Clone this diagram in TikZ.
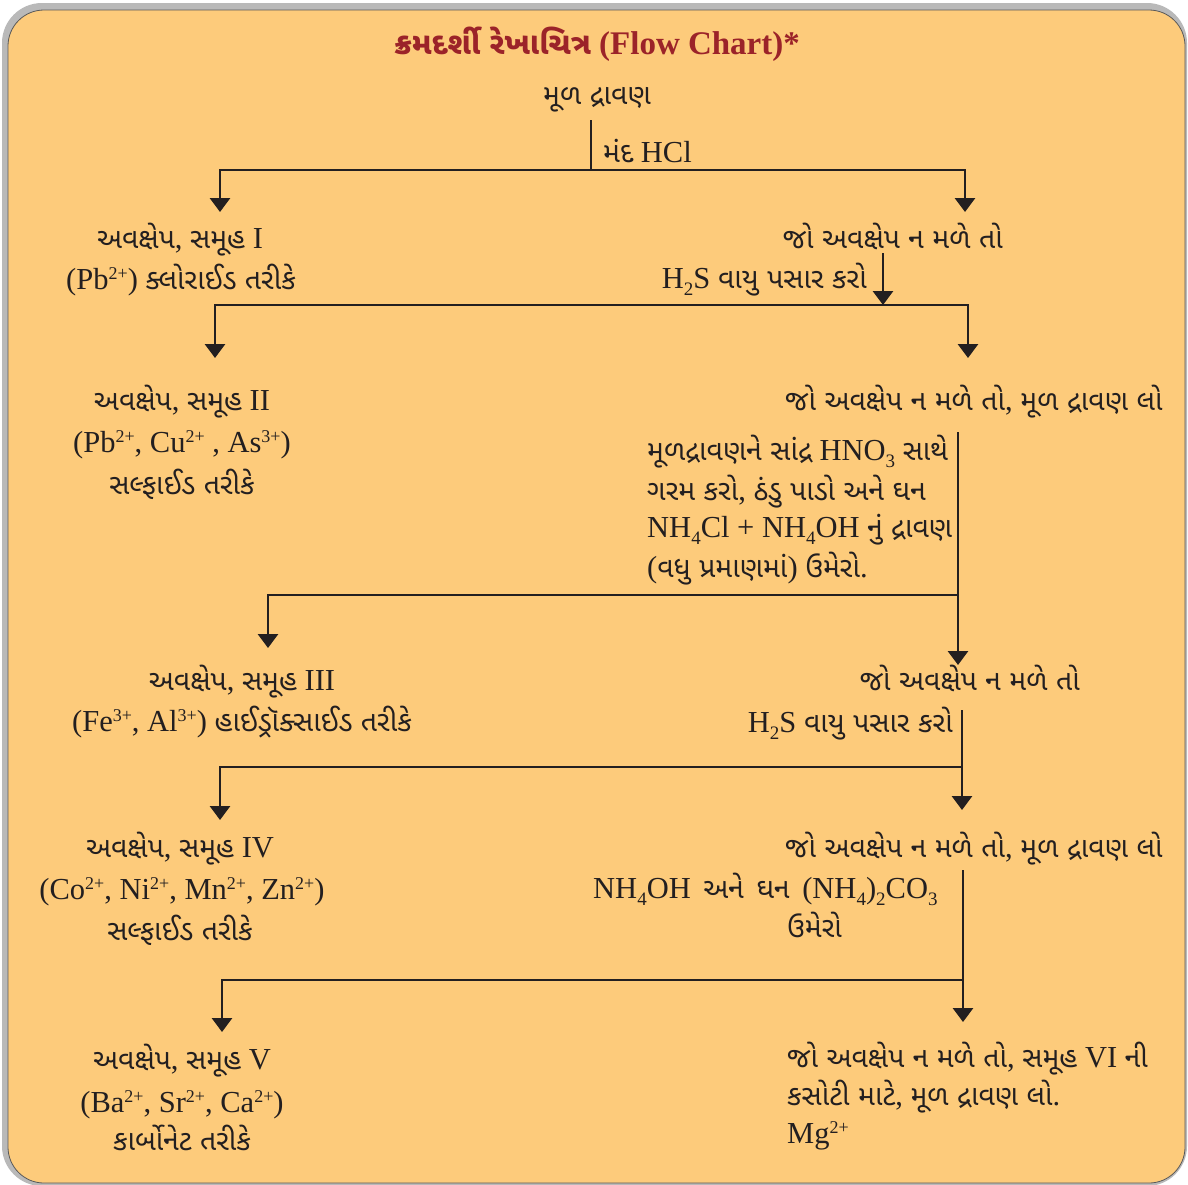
\documentclass[tikz,border=0pt]{standalone}
\usepackage{fontspec}
\setmainfont{Liberation Serif}
\newfontfamily\gujfont[Script=Gujarati,Scale=0.93]{Noto Sans Gujarati UI}
\newcommand\G[1]{{\gujfont #1}}
\newcommand\spp[1]{\raisebox{9.5pt}{\fontsize{18}{18}\selectfont #1}}
\newcommand\sbb[1]{\raisebox{-7pt}{\fontsize{19}{19}\selectfont #1}}
\usetikzlibrary{arrows.meta}
\definecolor{bg}{HTML}{FDCB7B}
\definecolor{ink}{HTML}{231F20}
\definecolor{titlered}{HTML}{9B2329}
\begin{document}
\begin{tikzpicture}[x=1pt,y=-1pt,
  txt/.style={inner sep=0pt, font=\fontsize{30.5}{40}\selectfont, text=ink},
  ttl/.style={inner sep=0pt, font=\fontsize{33}{40}\selectfont\bfseries, text=titlered},
  ln/.style={draw=ink, line width=2.9pt},
  arr/.style={draw=ink, line width=2.9pt, -{Triangle[width=20pt,length=14pt]}}]
\useasboundingbox (0,0) rectangle (1188,1184);
\fill[white] (0,0) rectangle (1188,1184);
\fill[gray!55, rounded corners=40pt] (2,3) rectangle (1187,1186);
\fill[bg, draw=gray!70!black, line width=0.8pt, rounded corners=36pt] (8,10) rectangle (1185,1183);

% title and source
\node[ttl, anchor=base] (title) at (597,54) {\G{ક્રમદર્શી રેખાચિત્ર} (Flow Chart)*};
\node[txt, anchor=base] (src) at (597,104) {\G{મૂળ દ્રાવણ}};
\node[txt, anchor=base west] (hcl) at (603,162) {\G{મંદ} HCl};

% row 1
\node[txt, anchor=base] (p1a) at (180,248) {\G{અવક્ષેપ}, \G{સમૂહ} I};
\node[txt, anchor=base] (p1b) at (181,289) {(Pb\spp{2+}) \G{ક્લોરાઈડ તરીકે}};
\node[txt, anchor=base east] (n1a) at (1003,248) {\G{જો અવક્ષેપ ન મળે તો}};
\node[txt, anchor=base east] (n1b) at (867,288) {H\sbb{2}S \G{વાયુ પસાર કરો}};

% row 2
\node[txt, anchor=base] (p2a) at (182,410) {\G{અવક્ષેપ}, \G{સમૂહ} II};
\node[txt, anchor=base] (p2b) at (182,452) {(Pb\spp{2+}, Cu\spp{2+} , As\spp{3+})};
\node[txt, anchor=base] (p2c) at (182,494) {\G{સલ્ફાઈડ તરીકે}};
\node[txt, anchor=base west] (n2a) at (785,410) {\G{જો અવક્ષેપ ન મળે તો}, \G{મૂળ દ્રાવણ લો}};
\node[txt, anchor=base west] (n2b) at (647,460) {\G{મૂળદ્રાવણને સાંદ્ર} HNO\sbb{3} \G{સાથે}};
\node[txt, anchor=base west] (n2c) at (647,500) {\G{ગરમ કરો}, \G{ઠંડુ પાડો અને ઘન}};
\node[txt, anchor=base west] (n2d) at (647,537) {NH\sbb{4}Cl + NH\sbb{4}OH \G{નું દ્રાવણ}};
\node[txt, anchor=base west] (n2e) at (647,577) {(\G{વધુ પ્રમાણમાં}) \G{ઉમેરો}.};

% row 3
\node[txt, anchor=base] (p3a) at (242,690) {\G{અવક્ષેપ}, \G{સમૂહ} III};
\node[txt, anchor=base] (p3b) at (242,731) {(Fe\spp{3+}, Al\spp{3+}) \G{હાઈડ્રૉક્સાઈડ તરીકે}};
\node[txt, anchor=base east] (n3a) at (1080,690) {\G{જો અવક્ષેપ ન મળે તો}};
\node[txt, anchor=base east] (n3b) at (953,732) {H\sbb{2}S \G{વાયુ પસાર કરો}};

% row 4
\node[txt, anchor=base] (p4a) at (180,857) {\G{અવક્ષેપ}, \G{સમૂહ} IV};
\node[txt, anchor=base] (p4b) at (182,899) {(Co\spp{2+}, Ni\spp{2+}, Mn\spp{2+}, Zn\spp{2+})};
\node[txt, anchor=base] (p4c) at (180,940) {\G{સલ્ફાઈડ તરીકે}};
\node[txt, anchor=base west] (n4a) at (785,857) {\G{જો અવક્ષેપ ન મળે તો}, \G{મૂળ દ્રાવણ લો}};
\node[txt, anchor=base west] (n4b) at (593,898) {NH\sbb{4}OH\hspace{5pt} \G{અને}\hspace{5pt} \G{ઘન}\hspace{5pt} (NH\sbb{4})\sbb{2}CO\sbb{3}};
\node[txt, anchor=base west] (n4c) at (787,937) {\G{ઉમેરો}};

% row 5
\node[txt, anchor=base] (p5a) at (182,1069) {\G{અવક્ષેપ}, \G{સમૂહ} V};
\node[txt, anchor=base] (p5b) at (182,1112) {(Ba\spp{2+}, Sr\spp{2+}, Ca\spp{2+})};
\node[txt, anchor=base] (p5c) at (182,1150) {\G{કાર્બોનેટ તરીકે}};
\node[txt, anchor=base west] (n5a) at (787,1067) {\G{જો અવક્ષેપ ન મળે તો}, \G{સમૂહ} VI \G{ની}};
\node[txt, anchor=base west] (n5b) at (787,1105) {\G{કસોટી માટે}, \G{મૂળ દ્રાવણ લો}.};
\node[txt, anchor=base west] (n5c) at (787,1143) {Mg\spp{2+}};

% connectors
\coordinate (h0) at (591,120);
\coordinate (h1) at (591,170);
\coordinate (t1l) at (220,212);
\coordinate (t1r) at (965,212);
\draw[ln] (h0) -- (h1);
\draw[arr] (h1) -| (t1l);
\draw[arr] (h1) -| (t1r);

\coordinate (a2s) at (883,253);
\coordinate (a2e) at (883,305);
\coordinate (t2l) at (215,358);
\coordinate (t2r) at (968,358);
\draw[arr] (a2s) -- (a2e);
\draw[arr] (a2e) -| (t2l);
\draw[arr] (a2e) -| (t2r);

\coordinate (v2s) at (958,432);
\coordinate (j3) at (958,595);
\coordinate (t3r) at (958,665);
\coordinate (t3l) at (268,648);
\draw[arr] (v2s) -- (t3r);
\draw[arr] (j3) -| (t3l);

\coordinate (v3s) at (962,710);
\coordinate (j4) at (962,767);
\coordinate (t4r) at (962,810);
\coordinate (t4l) at (220,820);
\draw[arr] (v3s) -- (t4r);
\draw[arr] (j4) -| (t4l);

\coordinate (v4s) at (963,870);
\coordinate (j5) at (963,980);
\coordinate (t5r) at (963,1022);
\coordinate (t5l) at (222,1032);
\draw[arr] (v4s) -- (t5r);
\draw[arr] (j5) -| (t5l);
\end{tikzpicture}
\end{document}
